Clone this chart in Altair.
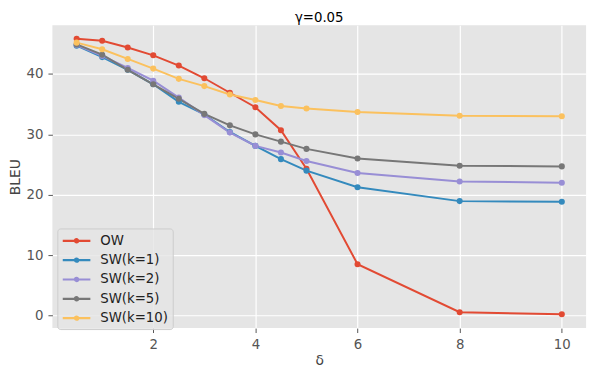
import altair as alt
import pandas as pd

deltas = [0.5, 1, 1.5, 2, 2.5, 3, 3.5, 4, 4.5, 5, 6, 8, 10]
series_names = ["OW", "SW(k=1)", "SW(k=2)", "SW(k=5)", "SW(k=10)"]
ow = [45.85, 45.5, 44.4, 43.1, 41.4, 39.3, 36.9, 34.5, 30.7, 24.3, 8.5, 0.55, 0.2]
sw1 = [44.7, 42.8, 40.7, 38.3, 35.4, 33.3, 30.4, 28.1, 25.9, 24.0, 21.25, 18.95, 18.85]
sw2 = [44.8, 43.0, 41.0, 38.9, 36.1, 33.2, 30.3, 28.1, 27.0, 25.6, 23.6, 22.2, 22.0]
sw5 = [44.9, 43.2, 40.7, 38.3, 35.9, 33.4, 31.5, 30.0, 28.8, 27.6, 26.0, 24.8, 24.7]
sw10 = [45.2, 44.1, 42.5, 40.9, 39.2, 38.0, 36.6, 35.7, 34.7, 34.3, 33.7, 33.1, 33.0]
colors = ["#E24A33", "#348ABD", "#988ED5", "#777777", "#FBC15E"]

rows = []
for name, vals in zip(series_names, [ow, sw1, sw2, sw5, sw10]):
    for d, v in zip(deltas, vals):
        rows.append({"delta": d, "BLEU": v, "series": name})
df = pd.DataFrame(rows)

x = alt.X("delta:Q", title="δ", scale=alt.Scale(domain=[0.025, 10.475], nice=False, zero=False),
          axis=alt.Axis(values=[2, 4, 6, 8, 10], format="d"))
y = alt.Y("BLEU:Q", title="BLEU", scale=alt.Scale(domain=[-2.08, 48.08], nice=False, zero=False),
          axis=alt.Axis(values=[0, 10, 20, 30, 40]))
color = alt.Color("series:N", scale=alt.Scale(domain=series_names, range=colors),
                  sort=series_names,
                  legend=alt.Legend(title=None, orient="none", legendX=5, legendY=206,
                                    symbolType="M-1,0L3,0M0.77,0A0.23,0.23 0 1,0 1.23,0A0.23,0.23 0 1,0 0.77,0",
                                    symbolSize=196, symbolStrokeWidth=2.2,
                                    labelFontSize=13.5, labelColor="#222222",
                                    fillColor="rgba(229,229,229,0.8)", strokeColor="#CCCCCC",
                                    cornerRadius=3, padding=4, rowPadding=4.6, labelOffset=22.5))

base = alt.Chart(df)
lines = base.mark_line(strokeWidth=2, clip=True).encode(x=x, y=y, color=color, order="delta:Q")
points = base.mark_circle(size=38, opacity=1).encode(x=x, y=y, color=alt.Color("series:N", scale=alt.Scale(domain=series_names, range=colors), legend=None))

chart = alt.layer(lines, points).properties(
    width=541, height=307,
    title=alt.TitleParams("γ=0.05", fontSize=13.5, fontWeight="normal", color="#000000", offset=1),
    autosize=alt.AutoSizeParams(type="none"),
    padding={"left": 45, "top": 15, "right": 6, "bottom": 40},
).configure(font="DejaVu Sans").configure_view(
    fill="#E5E5E5", stroke=None
).configure_axis(
    grid=True, gridColor="#FFFFFF", gridWidth=1.2, domain=False,
    tickColor="#555555", tickSize=4.5, tickWidth=1,
    labelColor="#555555", labelFontSize=13.5, labelPadding=5,
    titleColor="#444444", titleFontSize=14, titleFontWeight="normal",
).configure_axisX(titlePadding=3).configure_axisY(titlePadding=4)

chart.save("out.html", embed_options={"renderer": "svg", "actions": False})
